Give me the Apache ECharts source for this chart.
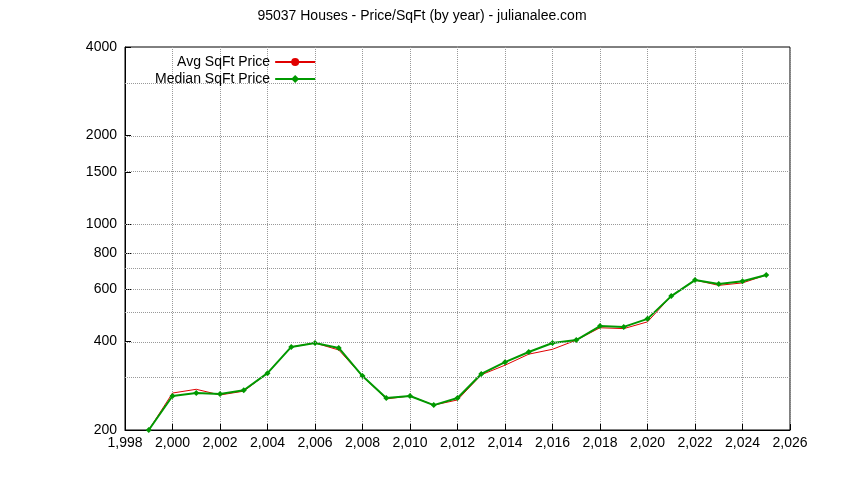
<!DOCTYPE html>
<html><head><meta charset="utf-8">
<script src="https://cdn.jsdelivr.net/npm/echarts@6/dist/echarts.min.js"></script>
</head><body style="margin:0">
<div id="c" style="width:844px;height:480px"></div>
<script>
const years = [1999,2000,2001,2002,2003,2004,2005,2006,2007,2008,2009,2010,2011,2012,2013,2014,2015,2016,2017,2018,2019,2020,2021,2022,2023,2024,2025];
const avgPrice = [200,267,275,263,271,312,383,395,374,305,255,261,243,253,308,332,362,376,404,445,442,466,570,646,620,632,672];
const medianPrice = [200,261,267,265,273,312,383,395,380,305,257,261,243,257,310,340,368,395,404,451,448,477,570,646,627,640,672];
const yLabels = [200,400,600,800,1000,1500,2000,4000];
const yGrid = [300,400,500,600,700,800,1000,1500,2000,3000];
const L = Math.log10;
const toPts = arr => years.map((y,i)=>[y, L(arr[i])]);
const font = 'Liberation Sans';
const chart = echarts.init(document.getElementById('c'));
chart.setOption({
  animation:false,
  textStyle:{fontFamily:font},
  title:{text:'95037 Houses - Price/SqFt (by year) - julianalee.com',left:'center',top:4,
    textStyle:{fontFamily:font,fontSize:14,fontWeight:'normal',color:'#000'}},
  grid:{left:125,right:54,top:47,bottom:50,show:true,borderColor:'#000',borderWidth:1},
  legend:{orient:'vertical',left:150,top:50,align:'right',itemGap:3,itemWidth:40,itemHeight:10,
    textStyle:{fontFamily:font,fontSize:14,color:'#000'},
    data:['Avg SqFt Price','Median SqFt Price']},
  xAxis:{type:'value',min:1998,max:2026,interval:2,
    axisLine:{lineStyle:{color:'#000'}},
    axisTick:{inside:true,length:6,lineStyle:{color:'#000'}},
    axisLabel:{color:'#000',fontSize:14,fontFamily:font,margin:6},
    splitLine:{show:true,lineStyle:{type:'dotted',color:'#999'}}},
  yAxis:{type:'value',min:L(200),max:L(4000),
    axisLine:{show:true,lineStyle:{color:'#000'}},
    axisTick:{show:true,inside:true,length:6,customValues:yLabels.map(L),lineStyle:{color:'#000'}},
    axisLabel:{color:'#000',fontSize:14,fontFamily:font,margin:8,customValues:yLabels.map(L),
      formatter:v=>String(Math.round(Math.pow(10,v)))},
    splitLine:{show:false}},
  series:[
    {name:'Avg SqFt Price',type:'line',data:toPts(avgPrice),showSymbol:false,symbol:'none',
     color:'#e00000',lineStyle:{width:1,color:'#e00000'},z:3,
     markLine:{silent:true,symbol:'none',label:{show:false},
       lineStyle:{type:'dotted',color:'#999',width:1},
       data:yGrid.map(v=>({yAxis:L(v)}))}},
    {name:'Median SqFt Price',type:'line',data:toPts(medianPrice),symbol:'diamond',symbolSize:6,
     color:'#009900',lineStyle:{width:2,color:'#009900'},itemStyle:{color:'#009900'},z:4}
  ]
});
</script></body></html>
